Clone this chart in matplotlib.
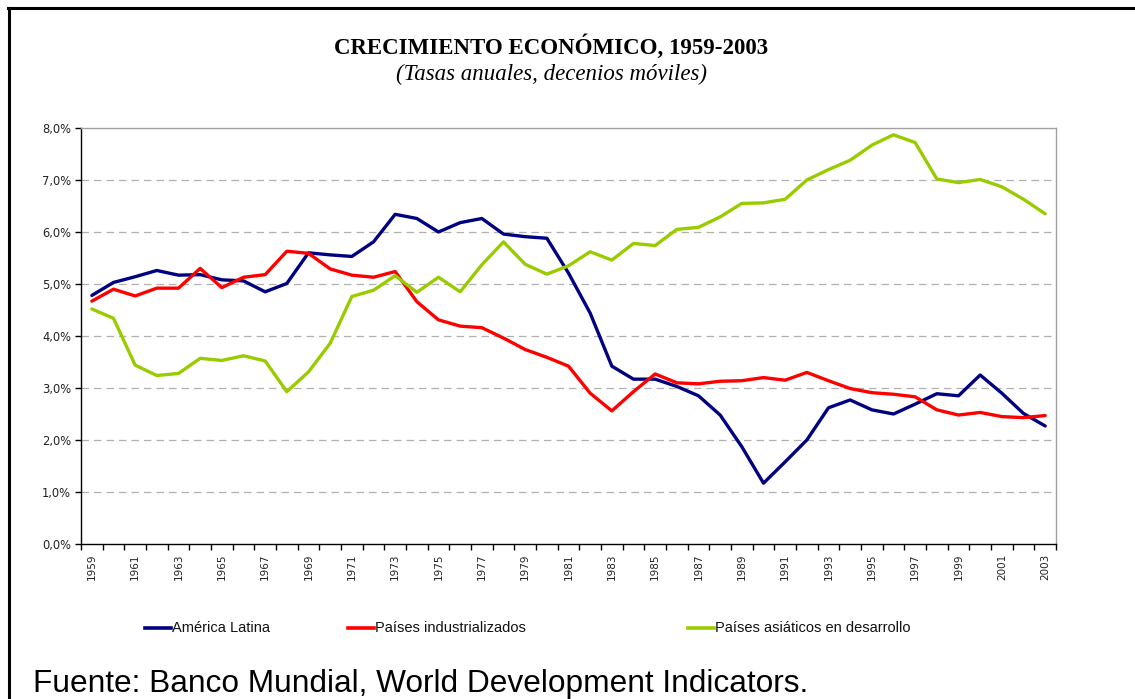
import matplotlib
matplotlib.use("Agg")
import matplotlib.pyplot as plt
import numpy as np
from matplotlib.ticker import FixedLocator, FuncFormatter

# data (annual rates, 10-year moving averages, %)
years = list(range(1959, 2004))

america_latina = [4.78, 5.03, 5.14, 5.26, 5.17, 5.18, 5.08, 5.06, 4.85, 5.01,
                  5.60, 5.56, 5.53, 5.81, 6.34, 6.26, 6.00, 6.18, 6.26, 5.96,
                  5.91, 5.88, 5.21, 4.44, 3.42, 3.17, 3.17, 3.03, 2.85, 2.48,
                  1.87, 1.17, 1.58, 2.00, 2.62, 2.77, 2.58, 2.50, 2.69, 2.89,
                  2.85, 3.25, 2.90, 2.51, 2.27]

industrializados = [4.67, 4.90, 4.77, 4.92, 4.92, 5.30, 4.93, 5.13, 5.18, 5.63,
                    5.59, 5.29, 5.17, 5.13, 5.24, 4.66, 4.31, 4.19, 4.16, 3.96,
                    3.74, 3.59, 3.42, 2.90, 2.56, 2.93, 3.27, 3.10, 3.08, 3.13,
                    3.14, 3.20, 3.15, 3.30, 3.14, 2.99, 2.91, 2.88, 2.83, 2.58,
                    2.48, 2.53, 2.45, 2.43, 2.47]

asiaticos = [4.52, 4.34, 3.44, 3.24, 3.28, 3.57, 3.53, 3.62, 3.52, 2.93,
             3.31, 3.86, 4.76, 4.88, 5.16, 4.84, 5.13, 4.85, 5.37, 5.81,
             5.38, 5.19, 5.35, 5.62, 5.46, 5.78, 5.74, 6.05, 6.09, 6.29,
             6.55, 6.56, 6.63, 7.00, 7.20, 7.38, 7.67, 7.87, 7.72, 7.02,
             6.95, 7.01, 6.87, 6.63, 6.35]

labels = ["América Latina", "Países industrializados", "Países asiáticos en desarrollo"]
colors = ["#000080", "#ff0000", "#99cc00"]

W, H = 1135, 699
fig = plt.figure(figsize=(W / 100, H / 100), dpi=100)
fig.patch.set_facecolor("white")

# outer frame (only top and left visible)
fig.add_artist(plt.Line2D([9 / W, 9 / W], [0, 1 - 8 / H], transform=fig.transFigure,
                          color="black", lw=2.2))
fig.add_artist(plt.Line2D([8 / W, 1], [1 - 8 / H, 1 - 8 / H], transform=fig.transFigure,
                          color="black", lw=2.2))

ax = fig.add_axes([81 / W, (H - 544) / H, 975 / W, 416 / H])

x = np.arange(len(years))
series = [america_latina, industrializados, asiaticos]
lines = []
for vals, c, lab in zip(series, colors, labels):
    ln, = ax.plot(x, vals, color=c, lw=2.4, label=lab, solid_capstyle="round",
                  solid_joinstyle="round")
    lines.append(ln)

ax.set_xlim(-0.5, len(years) - 0.5)
ax.set_ylim(0, 8)

for v in range(1, 8):
    ax.axhline(v, color="#b0b0b0", lw=0.9, ls=(0, (6, 4)), zorder=0)

ax.spines["left"].set_color("black")
ax.spines["bottom"].set_color("black")
ax.spines["top"].set_color("#a0a0a0")
ax.spines["right"].set_color("#a0a0a0")
for s in ax.spines.values():
    s.set_linewidth(1.0)

ax.yaxis.set_major_locator(FixedLocator(np.arange(0, 8.01, 1)))
ax.yaxis.set_major_formatter(FuncFormatter(lambda v, p: f"{v:.1f}%".replace(".", ",")))
ax.tick_params(axis="y", direction="out", length=4, width=1, labelsize=8.3,
               labelcolor="#222222", pad=3)

# tick marks at category boundaries, labels on odd years
ax.xaxis.set_major_locator(FixedLocator(np.arange(-0.5, len(years), 1)))
ax.xaxis.set_major_formatter(FuncFormatter(lambda v, p: ""))
ax.xaxis.set_minor_locator(FixedLocator(x[::2]))
ax.xaxis.set_minor_formatter(FuncFormatter(lambda v, p: str(years[int(round(v))])))
ax.tick_params(axis="x", which="major", direction="out", length=4, width=1)
ax.tick_params(axis="x", which="minor", length=0, labelsize=7.5, labelrotation=90,
               labelcolor="#222222", pad=7)

fig.text(551 / W, 1 - 47 / H, "CRECIMIENTO ECONÓMICO, 1959-2003", ha="center", va="center",
         family="Liberation Serif", fontweight="bold", fontsize=16.5)
fig.text(551 / W, 1 - 74 / H, "(Tasas anuales, decenios móviles)", ha="center", va="center",
         family="Liberation Serif", style="italic", fontsize=16.5)

# legend entries placed like the original
leg_pos = [145, 348, 688]
for ln, px, lab in zip(lines, leg_pos, labels):
    fig.add_artist(plt.Line2D([px / W, (px + 26) / W], [1 - 628 / H, 1 - 628 / H],
                              transform=fig.transFigure, color=ln.get_color(), lw=2.6))
    fig.text((px + 27) / W, 1 - 628 / H, lab, ha="left", va="center",
             family="Liberation Sans", fontsize=10.5, color="#111111")

fig.text(33 / W, 1 - 684 / H, "Fuente: Banco Mundial, World Development Indicators.",
         ha="left", va="center", family="Liberation Sans", fontsize=22.8, color="black")

fig.savefig("out.png", dpi=100)
